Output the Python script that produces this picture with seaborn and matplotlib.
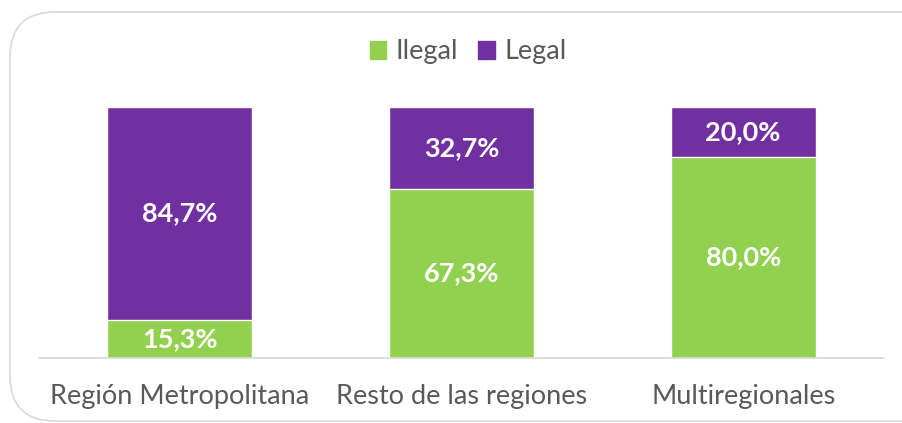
import numpy as np
import pandas as pd
import matplotlib.pyplot as plt
import seaborn as sns
from matplotlib.patches import FancyBboxPatch, Patch

categories = ['Región Metropolitana', 'Resto de las regiones', 'Multiregionales']
ilegal = [15.3, 67.3, 80.0]
legal = [84.7, 32.7, 20.0]

GREEN = '#92D050'
PURPLE = '#7030A0'
GRAY = '#595959'

sns.set_theme(style='white')
plt.rcParams['font.family'] = ['Lato', 'DejaVu Sans']

df = pd.DataFrame({'cat': categories, 'ilegal': ilegal, 'legal': legal})
df['total'] = df['ilegal'] + df['legal']

fig = plt.figure(figsize=(9.02, 4.23), dpi=100)
ax = fig.add_axes([39 / 902, 65 / 423, 845 / 902, 251 / 423])

# stacked: full bar in purple, green on top of it from zero
sns.barplot(data=df, x='cat', y='total', color=PURPLE, width=0.514,
            saturation=1, ax=ax)
sns.barplot(data=df, x='cat', y='ilegal', color=GREEN, width=0.514,
            saturation=1, ax=ax)

ax.set_xlim(-0.5, 2.5)
ax.set_ylim(0, 100)
ax.set_xlabel('')
ax.set_ylabel('')
ax.set_yticks([])
for s in ['top', 'right', 'left']:
    ax.spines[s].set_visible(False)
ax.spines['bottom'].set_color('#D9D9D9')
ax.spines['bottom'].set_linewidth(1.2)
ax.tick_params(axis='x', length=0, pad=19, labelsize=19.5, labelcolor=GRAY)

for i in range(len(categories)):
    ax.text(i, ilegal[i] / 2, f'{ilegal[i]:.1f}%'.replace('.', ','),
            ha='center', va='center', color='white', fontsize=19.5, fontweight='bold')
    ax.text(i, ilegal[i] + legal[i] / 2, f'{legal[i]:.1f}%'.replace('.', ','),
            ha='center', va='center', color='white', fontsize=19.5, fontweight='bold')

handles = [Patch(color=GREEN, label='Ilegal'), Patch(color=PURPLE, label='Legal')]
leg = fig.legend(handles=handles, loc='center', bbox_to_anchor=(468 / 902, 1 - 52 / 423),
                 ncol=2, frameon=False, fontsize=19.5, handlelength=0.6, handleheight=0.6,
                 handletextpad=0.35, columnspacing=0.75)
for t in leg.get_texts():
    t.set_color(GRAY)

# rounded frame around the chart area (cut off at right)
frame = FancyBboxPatch((10 / 902, 2 / 423), 1.2, 1 - 12 / 423 - 2 / 423,
                       boxstyle='round,pad=0,rounding_size=0.05',
                       transform=fig.transFigure, fill=False,
                       edgecolor='#D9D9D9', linewidth=1.2, mutation_aspect=902 / 423)
fig.patches.append(frame)

fig.savefig('out.png', dpi=100)
